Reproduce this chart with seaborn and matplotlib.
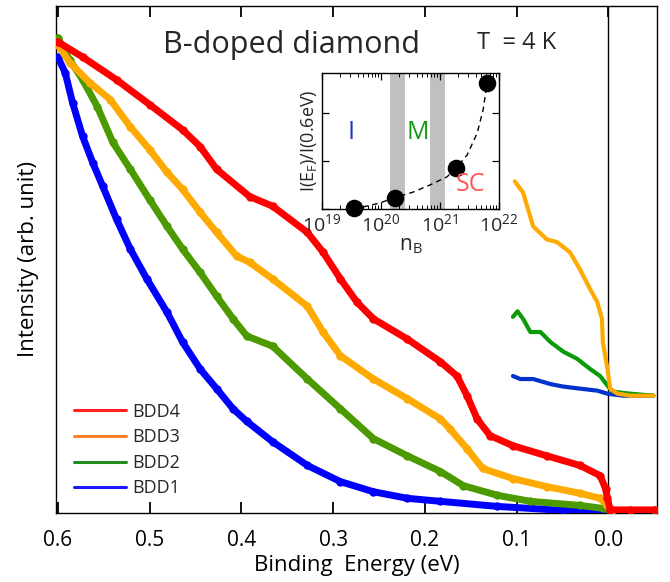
import numpy as np
import pandas as pd
import matplotlib
matplotlib.use("Agg")
import matplotlib.pyplot as plt
from matplotlib.lines import Line2D
from matplotlib.ticker import LogLocator, NullFormatter, MultipleLocator, NullLocator, FormatStrFormatter
import seaborn as sns

# ---------------- data ----------------
bdd4_E = [0.600, 0.573, 0.536, 0.500, 0.464, 0.445, 0.427, 0.391, 0.366, 0.328, 0.311, 0.292,
          0.274, 0.256, 0.219, 0.183, 0.165, 0.154, 0.143, 0.129, 0.104, 0.067, 0.031, 0.009,
          0.003, 0.001, -0.002, -0.024, -0.051]
bdd4_I = [92.9, 89.9, 85.4, 80.5, 75.5, 72.2, 67.7, 62.3, 60.4, 55.2, 51.3, 46.0,
          41.4, 38.1, 34.1, 29.6, 26.8, 22.9, 18.3, 15.0, 13.0, 11.0, 9.1, 7.1,
          4.5, 2.6, 0.3, 0.3, 0.3]

bdd3_E = [0.600, 0.587, 0.565, 0.543, 0.521, 0.500, 0.481, 0.464, 0.445, 0.427, 0.405, 0.391,
          0.366, 0.328, 0.311, 0.292, 0.256, 0.219, 0.183, 0.173, 0.154, 0.137, 0.104, 0.067,
          0.031, 0.009, 0.001, -0.004, -0.051]
bdd3_I = [92.3, 88.8, 84.8, 81.5, 76.1, 71.6, 67.1, 63.7, 59.2, 55.2, 50.5, 49.3,
          46.0, 40.6, 35.5, 30.8, 26.2, 22.3, 18.3, 16.4, 12.4, 8.5, 6.5, 4.9,
          3.6, 2.6, 1.2, 0.2, 0.2]

bdd2_E = [0.600, 0.587, 0.573, 0.557, 0.540, 0.521, 0.500, 0.481, 0.464, 0.445, 0.427, 0.409,
          0.394, 0.366, 0.328, 0.292, 0.256, 0.219, 0.183, 0.158, 0.121, 0.085, 0.031, 0.006,
          -0.004, -0.051]
bdd2_I = [93.7, 89.3, 85.4, 80.1, 73.0, 67.7, 61.7, 56.4, 51.9, 47.3, 42.6, 38.1,
          34.7, 32.7, 26.2, 20.3, 14.4, 11.0, 7.9, 5.1, 3.2, 2.0, 1.2, 0.6,
          0.2, 0.2]

bdd1_E = [0.600, 0.592, 0.584, 0.573, 0.562, 0.551, 0.536, 0.521, 0.503, 0.481, 0.464, 0.445,
          0.427, 0.409, 0.394, 0.366, 0.328, 0.292, 0.256, 0.219, 0.183, 0.121, 0.049, -0.002,
          -0.051]
bdd1_I = [89.9, 86.8, 80.9, 74.2, 69.0, 64.3, 57.8, 51.9, 46.0, 39.4, 33.5, 28.2,
          24.3, 20.3, 17.8, 13.8, 9.1, 5.9, 3.9, 2.6, 2.0, 1.0, 0.2, 0.0,
          0.0]

# magnified spectra near the Fermi level
zoom3_E = [0.102, 0.093, 0.082, 0.067, 0.056, 0.042, 0.031, 0.020, 0.012, 0.007, 0.006, 0.001,
           -0.002, -0.010, -0.024, -0.049]
zoom3_I = [65.3, 63.1, 56.4, 53.8, 53.3, 51.3, 47.9, 44.0, 41.4, 38.1, 33.5, 28.2,
           24.3, 23.3, 22.9, 22.9]
zoom2_E = [0.104, 0.099, 0.093, 0.085, 0.074, 0.063, 0.049, 0.034, 0.020, 0.009, 0.001, -0.005,
           -0.024, -0.049]
zoom2_I = [38.5, 39.6, 38.1, 35.5, 35.5, 33.5, 31.6, 30.2, 28.2, 26.8, 24.9, 23.7,
           23.3, 22.9]
zoom1_E = [0.104, 0.096, 0.082, 0.063, 0.049, 0.031, 0.012, 0.001, -0.016, -0.049]
zoom1_I = [26.8, 26.2, 26.2, 25.2, 24.7, 24.3, 23.9, 23.3, 22.9, 22.9]

# inset: ratio vs boron concentration
nB = [3.5e19, 1.7e20, 1.9e21, 6.3e21]
ratio = [0.02, 0.23, 0.85, 2.63]
fit_nB = [10**19.69, 10**19.98, 10**20.22, 10**20.54, 10**20.83, 10**21.12, 10**21.27,
          10**21.46, 10**21.63, 10**21.73, 10**21.80]
fit_ratio = [0.04, 0.125, 0.23, 0.35, 0.50, 0.67, 0.85, 1.125, 1.58, 2.06, 2.63]
bands = [(1.4e20, 2.6e20), (6.8e20, 1.2e21)]

labels = ["BDD4", "BDD3", "BDD2", "BDD1"]
curve_colors = {"BDD4": "#ff0000", "BDD3": "#ffaa00", "BDD2": "#4a9a00", "BDD1": "#0000ff"}
legend_colors = ["#ff2020", "#ff7f2a", "#228b22", "#1a1aff"]

# ---------------- style ----------------
sns.set_theme(style="ticks")
plt.rcParams["font.family"] = ["Open Sans", "DejaVu Sans"]
plt.rcParams["mathtext.fontset"] = "custom"
plt.rcParams["mathtext.rm"] = "Open Sans"
plt.rcParams["mathtext.it"] = "Open Sans:italic"
plt.rcParams["mathtext.bf"] = "Open Sans:bold"

fig = plt.figure(figsize=(6.70, 5.82), dpi=100)
ax = fig.add_axes([0.0836, 0.1186, 0.8970, 0.8711])

main = pd.concat([
    pd.DataFrame({"E": bdd4_E, "I": bdd4_I, "s": "BDD4"}),
    pd.DataFrame({"E": bdd3_E, "I": bdd3_I, "s": "BDD3"}),
    pd.DataFrame({"E": bdd2_E, "I": bdd2_I, "s": "BDD2"}),
    pd.DataFrame({"E": bdd1_E, "I": bdd1_I, "s": "BDD1"}),
], ignore_index=True)

for lab in ["BDD1", "BDD2", "BDD3", "BDD4"]:
    sub = main[main["s"] == lab]
    sns.lineplot(data=sub, x="E", y="I", ax=ax, color=curve_colors[lab], lw=5.0,
                 sort=False, legend=False, marker="o", markersize=6, markeredgewidth=0,
                 solid_capstyle="round", solid_joinstyle="round", zorder=3)

zoomdf = [(zoom3_E, zoom3_I, "#ffaa00"), (zoom2_E, zoom2_I, "#0a9a0a"), (zoom1_E, zoom1_I, "#0033cc")]
for E, I, c in zoomdf[::-1]:
    sns.lineplot(x=E, y=I, ax=ax, color=c, lw=3.0, sort=False, legend=False,
                 solid_capstyle="round", solid_joinstyle="round", zorder=4)

ax.axvline(0.0, color="black", lw=1.0, zorder=2)

ax.set_xlim(0.602, -0.053)
ax.set_ylim(-0.3, 100)
ax.xaxis.set_major_locator(MultipleLocator(0.1))
ax.xaxis.set_major_formatter(FormatStrFormatter("%.1f"))
ax.yaxis.set_major_locator(NullLocator())
ax.tick_params(axis="x", direction="in", length=8, width=1.3, color="black", top=True,
               labelcolor="black", labelsize=15, pad=12)
for sp in ax.spines.values():
    sp.set_linewidth(1.0)
    sp.set_color("black")
ax.set_xlabel("Binding  Energy (eV)", fontsize=16, labelpad=3, color="black")
ax.set_ylabel("Intensity (arb. unit)", fontsize=16, labelpad=12, color="black")

ax.text(0.345, 92.3, "B-doped diamond", fontsize=22, ha="center", va="center")
ax.text(0.1, 92.6, "T  = 4 K", fontsize=17, ha="center", va="center")

handles = [Line2D([0], [0], color=c, lw=2.2) for c in legend_colors]
ax.legend(handles, labels, loc="lower left", bbox_to_anchor=(0.0, -0.005), frameon=False,
          fontsize=13, handlelength=2.9, handletextpad=0.35, labelspacing=0.42, borderaxespad=0.6)

# ---------------- inset ----------------
axi = fig.add_axes([0.4806, 0.6409, 0.2642, 0.2337])
for lo, hi in bands:
    axi.axvspan(lo, hi, color="#c0c0c0", lw=0, zorder=0)
sns.lineplot(x=fit_nB, y=fit_ratio, ax=axi, color="black", lw=1.0, linestyle=(0, (4, 3)),
             sort=False, legend=False, zorder=2)
sns.scatterplot(x=nB, y=ratio, ax=axi, color="black", s=160, edgecolor="black",
                linewidth=0, legend=False, zorder=3, clip_on=False)
axi.set_xscale("log")
axi.set_xlim(1e19, 1e22)
axi.set_ylim(0, 2.83)
axi.xaxis.set_major_locator(LogLocator(base=10, numticks=10))
axi.xaxis.set_minor_locator(LogLocator(base=10, subs=np.arange(2, 10), numticks=20))
axi.xaxis.set_minor_formatter(NullFormatter())
axi.yaxis.set_major_locator(MultipleLocator(1))
axi.tick_params(axis="x", which="major", direction="in", length=5, width=0.9, top=True,
                color="black", labelsize=14, pad=3)
axi.tick_params(axis="x", which="minor", direction="in", length=3, width=0.7, top=True,
                color="black")
axi.tick_params(axis="y", which="major", direction="in", length=5, width=0.9, right=True,
                color="black", labelleft=False)
for sp in axi.spines.values():
    sp.set_linewidth(1.0)
    sp.set_color("black")
axi.set_xlabel(r"n$_\mathrm{B}$", fontsize=15, labelpad=0)
axi.set_ylabel(r"I(E$_\mathrm{F}$)/I(0.6eV)", fontsize=13, labelpad=2)
axi.text(10**19.5, 1.6, "I", color="#2233cc", fontsize=18, ha="center", va="center")
axi.text(10**20.62, 1.6, "M", color="#119911", fontsize=18, ha="center", va="center")
axi.text(10**21.52, 0.5, "SC", color="#ff5555", fontsize=18, ha="center", va="center")

fig.savefig("out.png", dpi=100)
